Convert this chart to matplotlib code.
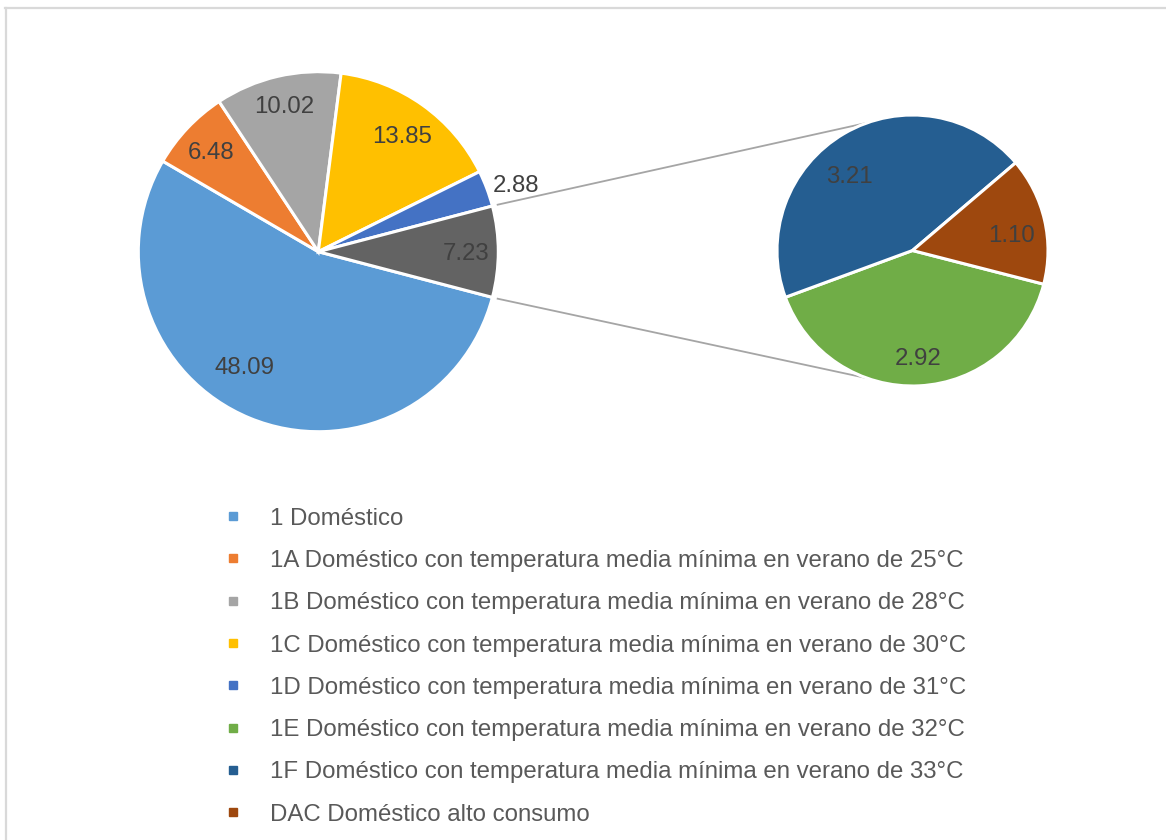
import numpy as np
import matplotlib
matplotlib.use("Agg")
import matplotlib.pyplot as plt

plt.rcParams['font.family'] = ['Liberation Sans', 'DejaVu Sans']

# ---------------- data ----------------
main_names = ["1 Doméstico",
              "1A Doméstico con temperatura media mínima en verano de 25°C",
              "1B Doméstico con temperatura media mínima en verano de 28°C",
              "1C Doméstico con temperatura media mínima en verano de 30°C",
              "1D Doméstico con temperatura media mínima en verano de 31°C"]
main_values = [48.09, 6.48, 10.02, 13.85, 2.88]
main_colors = ["#5B9BD5", "#ED7D31", "#A5A5A5", "#FFC000", "#4472C4"]

sec_names = ["1E Doméstico con temperatura media mínima en verano de 32°C",
             "1F Doméstico con temperatura media mínima en verano de 33°C",
             "DAC Doméstico alto consumo"]
sec_values = [2.92, 3.21, 1.10]
sec_colors = ["#70AD47", "#255E91", "#9E480E"]

other_label = "7.23"
other_color = "#636363"

# label placement tweaks (style only: angle shift in degrees, radial factor)
main_label_style = [(-10.5, 0.75), (0, 0.82), (0, 0.84), (0, 0.80), (-1.5, 1.16), (0, 0.82)]
sec_label_style = [(0, 0.78), (9.5, 0.73), (-3.0, 0.74)]

# ---------------- figure ----------------
W, H = 1166, 840
fig = plt.figure(figsize=(W / 100, H / 100), dpi=100)
ax = fig.add_axes([0, 0, 1, 1])

other_value = sum(sec_values)
pie_values = main_values + [other_value]
pie_colors = main_colors + [other_color]
total = sum(pie_values)
other_deg = other_value / total * 360.0

C1 = (318.3, H - 251.7)
R1 = 180.0
C2 = (912.5, H - 250.5)
R2 = 135.5

edge = dict(edgecolor="white", linewidth=2.2)
w1, _ = ax.pie(pie_values, colors=pie_colors, startangle=-other_deg / 2,
               counterclock=False, center=C1, radius=R1, wedgeprops=edge)
w2, _ = ax.pie(sec_values, colors=sec_colors, startangle=-14.4,
               counterclock=False, center=C2, radius=R2, wedgeprops=edge)

FS = 17.3
lab_color = "#404040"
base_off = 0.358 * FS * 100 / 72  # half cap height in pixels


def place_labels(wedges, texts, center, r, styles):
    for w, t, (shift, d) in zip(wedges, texts, styles):
        mid = np.deg2rad((w.theta1 + w.theta2) / 2 + shift)
        x = center[0] + d * r * np.cos(mid)
        y = center[1] + d * r * np.sin(mid)
        ax.text(x, y - base_off, t, ha="center", va="baseline",
                fontsize=FS, color=lab_color)


main_texts = [f"{v:.2f}" for v in main_values] + [other_label]
place_labels(w1, main_texts, C1, R1, main_label_style)
place_labels(w2, [f"{v:.2f}" for v in sec_values], C2, R2, sec_label_style)

# connector lines
for s in (1, -1):
    a1 = np.deg2rad(s * other_deg / 2)
    a2 = np.deg2rad(s * 109.5)
    p1 = (C1[0] + 1.025 * R1 * np.cos(a1), C1[1] + 1.025 * R1 * np.sin(a1))
    p2 = (C2[0] + R2 * np.cos(a2), C2[1] + R2 * np.sin(a2))
    ax.plot([p1[0], p2[0]], [p1[1], p2[1]], color="#A5A5A5", lw=1.3,
            solid_capstyle="butt", zorder=0)

# legend (Excel-like, one row per category)
leg_names = main_names + sec_names
leg_colors = main_colors + sec_colors
y0, pitch = 516, 42.3
for i, (n, c) in enumerate(zip(leg_names, leg_colors)):
    yc = H - (y0 + i * pitch)
    ax.plot([232.5], [yc], marker="s", ms=5.8, color=c, linestyle="none")
    ax.text(270, yc - base_off, n, ha="left", va="baseline",
            fontsize=FS, color="#595959")

# chart frame (top and left visible)
ax.plot([5.5, 5.5], [0, H - 8], color="#D9D9D9", lw=1.6)
ax.plot([4.5, W], [H - 8, H - 8], color="#D9D9D9", lw=1.6)

ax.set_xlim(0, W)
ax.set_ylim(0, H)
ax.set_aspect("auto")
ax.axis("off")

fig.savefig("out.png", dpi=100, facecolor="white")
